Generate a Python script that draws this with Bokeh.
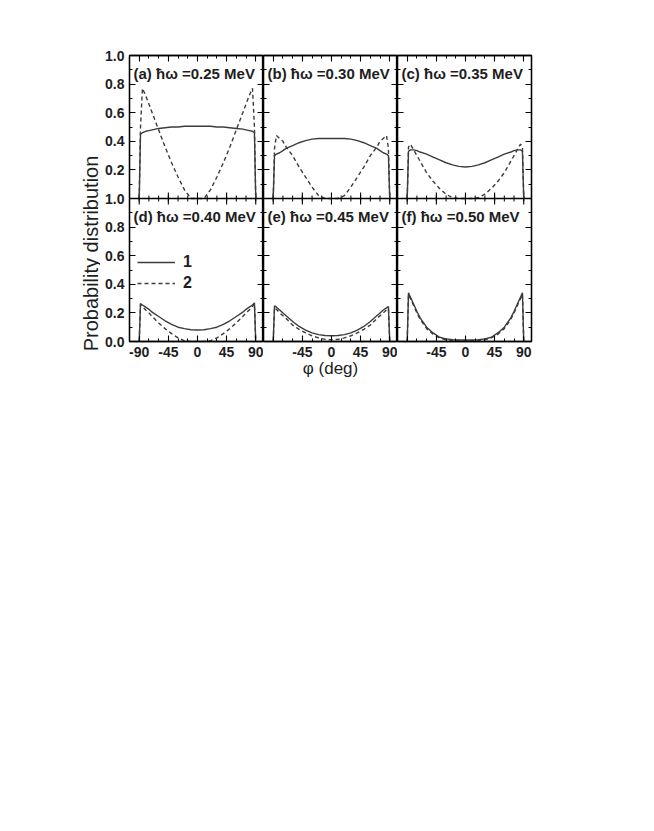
import math
from bokeh.plotting import figure
from bokeh.layouts import row
from bokeh.models import (LinearAxis, FixedTicker, Label, Legend, LegendItem,
                          Range1d, Span)
from bokeh.embed import file_html
from bokeh.resources import INLINE

# ---------------- data ----------------
phi = [-90, -88, -85, -80, -75, -70, -60, -50, -40, -30, -20, -10, 0,
       10, 20, 30, 40, 50, 60, 70, 75, 80, 85, 88, 90]

a1 = [0, 0.45, 0.46, 0.47, 0.475, 0.48, 0.49, 0.495, 0.50, 0.50, 0.505, 0.505, 0.505,
      0.505, 0.505, 0.50, 0.50, 0.495, 0.49, 0.485, 0.48, 0.475, 0.47, 0.46, 0]
a2 = [0, 0.50, 0.77, 0.72, 0.66, 0.60, 0.48, 0.36, 0.25, 0.15, 0.06, 0.0, 0.0,
      0.0, 0.06, 0.15, 0.25, 0.36, 0.48, 0.60, 0.66, 0.72, 0.77, 0.50, 0]
b1 = [0, 0.30, 0.31, 0.32, 0.335, 0.35, 0.37, 0.39, 0.405, 0.415, 0.42, 0.42, 0.42,
      0.42, 0.42, 0.415, 0.405, 0.39, 0.37, 0.35, 0.335, 0.32, 0.31, 0.30, 0]
b2 = [0, 0.35, 0.44, 0.42, 0.40, 0.36, 0.30, 0.22, 0.15, 0.08, 0.02, 0.0, 0.0,
      0.0, 0.02, 0.08, 0.15, 0.22, 0.30, 0.36, 0.40, 0.42, 0.44, 0.35, 0]
c1 = [0, 0.33, 0.34, 0.34, 0.335, 0.325, 0.31, 0.29, 0.27, 0.25, 0.235, 0.225, 0.22,
      0.225, 0.235, 0.25, 0.27, 0.29, 0.31, 0.325, 0.335, 0.34, 0.34, 0.33, 0]
c2 = [0, 0.36, 0.38, 0.34, 0.30, 0.26, 0.18, 0.12, 0.07, 0.03, 0.005, 0.0, 0.0,
      0.0, 0.005, 0.03, 0.07, 0.12, 0.18, 0.26, 0.30, 0.34, 0.38, 0.36, 0]
d1 = [0, 0.265, 0.255, 0.24, 0.225, 0.205, 0.175, 0.145, 0.12, 0.10, 0.09, 0.082, 0.08,
      0.082, 0.09, 0.10, 0.12, 0.145, 0.175, 0.205, 0.225, 0.24, 0.255, 0.27, 0]
d2 = [0, 0.26, 0.245, 0.22, 0.20, 0.175, 0.13, 0.09, 0.055, 0.025, 0.005, 0.0, 0.0,
      0.0, 0.005, 0.025, 0.055, 0.09, 0.13, 0.175, 0.20, 0.22, 0.245, 0.265, 0]
e1 = [0, 0.25, 0.24, 0.22, 0.20, 0.18, 0.14, 0.105, 0.08, 0.06, 0.048, 0.042, 0.04,
      0.042, 0.048, 0.06, 0.08, 0.105, 0.14, 0.18, 0.20, 0.22, 0.235, 0.245, 0]
e2 = [0, 0.235, 0.225, 0.20, 0.18, 0.16, 0.115, 0.085, 0.06, 0.04, 0.025, 0.015, 0.012,
      0.015, 0.025, 0.04, 0.06, 0.085, 0.115, 0.16, 0.18, 0.20, 0.22, 0.23, 0]
f1 = [0, 0.34, 0.31, 0.26, 0.21, 0.165, 0.10, 0.06, 0.03, 0.018, 0.012, 0.01, 0.01,
      0.01, 0.012, 0.018, 0.03, 0.06, 0.10, 0.165, 0.21, 0.26, 0.31, 0.34, 0]
f2 = [0, 0.33, 0.30, 0.25, 0.20, 0.155, 0.09, 0.05, 0.025, 0.012, 0.008, 0.006, 0.005,
      0.006, 0.008, 0.012, 0.025, 0.05, 0.09, 0.155, 0.20, 0.25, 0.30, 0.33, 0]

panel_labels = ["(a) ħω =0.25 MeV", "(b) ħω =0.30 MeV", "(c) ħω =0.35 MeV",
                "(d) ħω =0.40 MeV", "(e) ħω =0.45 MeV", "(f) ħω =0.50 MeV"]
solid_series = [a1, b1, c1, d1, e1, f1]
dashed_series = [a2, b2, c2, d2, e2, f2]
legend_labels = ["1", "2"]

x_ticks = [-90, -45, 0, 45, 90]
x_minor = [-90, -75, -60, -45, -30, -15, 0, 15, 30, 45, 60, 75, 90]
x_tick_labels = ["-90", "-45", "0", "45", "90"]
y_ticks = [0.0, 0.2, 0.4, 0.6, 0.8, 1.0]
y_minor = [0.1, 0.3, 0.5, 0.7, 0.9]
y_tick_labels = ["0.0", "0.2", "0.4", "0.6", "0.8", "1.0"]

x_title = "φ (deg)"
y_title = "Probability distribution"

# ---------------- style ----------------
FONT = "Liberation Sans"
INK = "#1e1e1e"
LINE = "#3c3c3c"
FW = 134
PH = 143            # height of one panel
FH = 2 * PH         # each column figure holds an upper and a lower panel
TOP = 55
BOTTOM = 50
TITLE_W = 100
LEFT = 29


def k(t):
    t = round(t, 6)
    return int(t) if float(t).is_integer() else t


# Each column is one figure. The lower panel uses the default y range (0..2),
# so its 0..1 fills the lower half; the upper panel uses an extra range (-1..1),
# so its 0..1 fills the upper half. One axis carries the ticks of both panels.
col_y_ticks = [k(t) for t in y_ticks] + [k(1 + t) for t in y_ticks[1:]]
col_y_minor = [k(t) for t in y_minor] + [k(1 + t) for t in y_minor]
col_y_labels = {k(t): s for t, s in zip(y_ticks, y_tick_labels)}
col_y_labels.update({k(1 + t): s for t, s in zip(y_ticks[1:], y_tick_labels[1:])})


def style_axis(ax, show_labels, overrides):
    ax.axis_line_color = "black"
    ax.axis_line_width = 1.3
    ax.major_tick_line_color = "black"
    ax.minor_tick_line_color = "black"
    ax.major_tick_line_width = 1.1
    ax.minor_tick_line_width = 1.0
    ax.major_tick_in = 6
    ax.major_tick_out = 0
    ax.minor_tick_in = 3
    ax.minor_tick_out = 0
    if show_labels:
        ax.major_label_text_font = FONT
        ax.major_label_text_font_style = "bold"
        ax.major_label_text_font_size = "14px"
        ax.major_label_text_color = INK
        ax.major_label_standoff = 5
        ax.major_label_overrides = overrides
    else:
        ax.major_label_text_font_size = "0px"
        ax.major_label_standoff = 0
        ax.major_label_overrides = {t: "" for t in overrides}


cols = []
for c in range(3):
    top_i, bot_i = c, c + 3
    p = figure(frame_width=FW, frame_height=FH,
               x_range=Range1d(-105, 102), y_range=Range1d(0, 2),
               x_axis_location=None, y_axis_location=None,
               output_backend="svg", toolbar_location=None,
               min_border_left=LEFT if c == 0 else 0,
               min_border_right=14 if c == 2 else 0,
               min_border_top=TOP, min_border_bottom=BOTTOM,
               background_fill_color="white", border_fill_color="white",
               outline_line_color="black", outline_line_width=1.3)
    p.xgrid.visible = False
    p.ygrid.visible = False
    p.extra_y_ranges = {"top": Range1d(-1, 1)}

    xtick = FixedTicker(ticks=x_ticks, minor_ticks=x_minor)
    xo = {k(t): s for t, s in zip(x_ticks, x_tick_labels)}
    if c > 0:
        xo[-90] = ""

    below = LinearAxis(ticker=xtick)
    style_axis(below, True, xo)
    above = LinearAxis(ticker=xtick)
    style_axis(above, False, xo)
    if c == 1:
        below.axis_label = x_title
        below.axis_label_text_font = FONT
        below.axis_label_text_font_style = "normal"
        below.axis_label_text_font_size = "17px"
        below.axis_label_text_color = INK
        below.axis_label_standoff = -1
    p.add_layout(below, "below")
    p.add_layout(above, "above")

    yl = LinearAxis(ticker=FixedTicker(ticks=col_y_ticks, minor_ticks=col_y_minor))
    style_axis(yl, c == 0, col_y_labels)
    p.add_layout(yl, "left")
    yr = LinearAxis(ticker=FixedTicker(ticks=col_y_ticks, minor_ticks=col_y_minor))
    style_axis(yr, False, col_y_labels)
    p.add_layout(yr, "right")

    # divider between the two panels
    p.add_layout(Span(location=0, dimension="width", y_range_name="top",
                      line_color="black", line_width=1.3))
    # inward ticks on both sides of the divider, at the x tick positions
    for ticks, ln, w in ((x_ticks, 6.0, 1.1), (x_minor, 3.0, 1.0)):
        n = len(ticks)
        p.segment(x0=ticks, x1=ticks, y0=[0] * n, y1=[2 * ln / FH] * n,
                  y_range_name="top", line_color="black", line_width=w)
        p.segment(x0=ticks, x1=ticks, y0=[1] * n, y1=[1 - 2 * ln / FH] * n,
                  line_color="black", line_width=w)

    # curves
    p.line(phi, solid_series[top_i], y_range_name="top",
           line_color=LINE, line_width=1.4)
    p.line(phi, dashed_series[top_i], y_range_name="top",
           line_color=LINE, line_width=1.4, line_dash="4 3")
    rs = p.line(phi, solid_series[bot_i], line_color=LINE, line_width=1.4)
    rd = p.line(phi, dashed_series[bot_i], line_color=LINE, line_width=1.4,
                line_dash="4 3")

    for idx, yy in ((top_i, FH - 18), (bot_i, PH - 18)):
        p.add_layout(Label(x=4, y=yy, x_units="screen", y_units="screen",
                           text=panel_labels[idx], text_font=FONT,
                           text_font_style="bold", text_font_size="15px",
                           text_color=INK, text_baseline="middle"))

    if c == 0:
        leg = Legend(items=[LegendItem(label=legend_labels[0], renderers=[rs]),
                            LegendItem(label=legend_labels[1], renderers=[rd])],
                     location=(8, 48), orientation="vertical",
                     background_fill_alpha=0, border_line_alpha=0,
                     padding=0, margin=0, spacing=1,
                     glyph_width=38, glyph_height=20, label_height=20,
                     label_standoff=8,
                     label_text_font=FONT, label_text_font_style="bold",
                     label_text_font_size="16px", label_text_color=INK)
        p.add_layout(leg)
    cols.append(p)

# narrow figure that carries the shared y-axis title
TOTAL_H = TOP + FH + BOTTOM
tf = figure(frame_width=TITLE_W, frame_height=TOTAL_H,
            x_range=Range1d(0, 1), y_range=Range1d(0, 1),
            x_axis_location=None, y_axis_location=None,
            output_backend="svg", toolbar_location=None,
            min_border=0, outline_line_color=None,
            background_fill_color="white", border_fill_color="white")
tf.xgrid.visible = False
tf.ygrid.visible = False
tf.add_layout(Label(x=90, y=PH + BOTTOM, x_units="screen", y_units="screen",
                    text=y_title, angle=math.pi / 2, text_font=FONT,
                    text_font_size="20px", text_color=INK,
                    text_align="center", text_baseline="middle"))

layout = row(tf, *cols)

open("out.html", "w").write(file_html(layout, INLINE))
